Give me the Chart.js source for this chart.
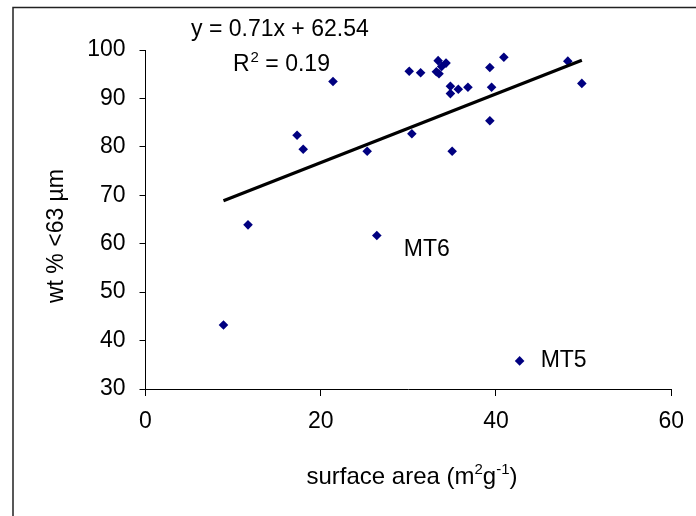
<!DOCTYPE html>
<html>
<head>
<meta charset="utf-8">
<script src="https://cdn.jsdelivr.net/npm/chart.js@4.4.1/dist/chart.umd.min.js"></script>
<style>
html,body{margin:0;padding:0;background:#fff;}
#wrap{width:696px;height:516px;position:relative;}
</style>
</head>
<body>
<div id="wrap"><canvas id="c" width="696" height="516"></canvas></div>
<script>
// Data
const surfaceArea = [21.4, 17.3, 18.0, 25.3, 30.1, 31.4, 33.4, 34.3, 33.2, 33.5, 33.8, 39.3, 40.9, 34.8, 35.7, 36.8, 34.8, 39.5, 39.3, 30.4, 35.0, 48.2, 49.8, 11.7, 26.4, 8.9, 42.7];
const wtPercent   = [93.5, 82.4, 79.5, 79.1, 95.6, 95.3, 97.8, 97.3, 95.5, 95.1, 96.6, 96.4, 98.5, 92.5, 91.9, 92.3, 91.0, 92.3, 85.4, 82.7, 79.1, 97.7, 93.1, 63.9, 61.7, 43.2, 35.8];
const xTickValues = [0, 20, 40, 60];
const yTickValues = [30, 40, 50, 60, 70, 80, 90, 100];
const trendSlope = 0.71;
const trendIntercept = 62.54;
const equationText = "y = 0.71x + 62.54";
const r2Value = "0.19";
const pointLabels = [{text: "MT6", x: 26.4, y: 61.7}, {text: "MT5", x: 42.7, y: 35.8}];

const points = surfaceArea.map((x, i) => ({x: x, y: wtPercent[i]}));
const xMin = Math.min(...surfaceArea), xMax = Math.max(...surfaceArea);
const trend = [{x: xMin, y: trendSlope * xMin + trendIntercept}, {x: xMax, y: trendSlope * xMax + trendIntercept}];

const FONT = '"Liberation Sans", Arial, sans-serif';

const decor = {
  id: 'decor',
  beforeDraw(chart) {
    const ctx = chart.ctx;
    ctx.save();
    ctx.fillStyle = '#fff';
    ctx.fillRect(0, 0, chart.width, chart.height);
    ctx.strokeStyle = '#222';
    ctx.lineWidth = 1.5;
    ctx.strokeRect(13, 7.5, 800, 800);
    ctx.restore();
  },
  afterDraw(chart) {
    const ctx = chart.ctx;
    const xs = chart.scales.x, ys = chart.scales.y;
    ctx.save();
    ctx.fillStyle = '#000';
    ctx.textBaseline = 'alphabetic';
    // Equation
    ctx.font = '23px ' + FONT;
    ctx.textAlign = 'left';
    ctx.fillText(equationText, 191, 36);
    // R^2
    let x0 = 233, yb = 71;
    ctx.fillText('R', x0, yb);
    let w = ctx.measureText('R').width;
    ctx.font = '15px ' + FONT;
    ctx.fillText('2', x0 + w + 1, yb - 9);
    let w2 = ctx.measureText('2').width;
    ctx.font = '23px ' + FONT;
    ctx.fillText(' = ' + r2Value, x0 + w + w2 + 1, yb);
    // Point labels
    ctx.font = '23px ' + FONT;
    ctx.textBaseline = 'middle';
    const off = [{dx: 27, dy: 14}, {dx: 21, dy: 0}];
    pointLabels.forEach((p, i) => {
      const px = xs.getPixelForValue(p.x), py = ys.getPixelForValue(p.y);
      ctx.fillText(p.text, px + off[i].dx, py + off[i].dy);
    });
    // X axis title with superscripts
    ctx.textBaseline = 'alphabetic';
    const parts = [['surface area (m', 24, 0], ['2', 15, -10], ['g', 24, 0], ['-1', 15, -10], [')', 24, 0]];
    let total = 0;
    parts.forEach(p => { ctx.font = p[1] + 'px ' + FONT; total += ctx.measureText(p[0]).width; });
    let cx = 412 - total / 2;
    parts.forEach(p => {
      ctx.font = p[1] + 'px ' + FONT;
      ctx.fillText(p[0], cx, 484 + p[2]);
      cx += ctx.measureText(p[0]).width;
    });
    // Y axis title
    ctx.translate(57, 236);
    ctx.rotate(-Math.PI / 2);
    ctx.font = '23px ' + FONT;
    ctx.textAlign = 'center';
    ctx.textBaseline = 'middle';
    ctx.fillText('wt % <63 \u00B5m', 0, 0);
    ctx.restore();
  }
};

new Chart(document.getElementById('c'), {
  type: 'scatter',
  data: {
    datasets: [
      {
        label: 'data',
        data: points,
        pointStyle: 'rectRot',
        pointRadius: 4.8,
        pointBackgroundColor: '#000080',
        pointBorderColor: '#000080',
        pointBorderWidth: 0,
        showLine: false,
        order: 2
      },
      {
        label: 'trend',
        type: 'line',
        data: trend,
        borderColor: '#000',
        borderWidth: 3.2,
        pointRadius: 0,
        fill: false,
        order: 1
      }
    ]
  },
  options: {
    responsive: false,
    animation: false,
    devicePixelRatio: 1,
    layout: {padding: {top: 50, right: 23, left: 0, bottom: 0}},
    plugins: {legend: {display: false}, tooltip: {enabled: false}},
    scales: {
      x: {
        type: 'linear', min: 0, max: 60,
        afterBuildTicks(s) { s.ticks = xTickValues.map(v => ({value: v})); },
        afterFit(s) { s.height = 127; },
        grid: {drawOnChartArea: false, drawTicks: true, tickLength: 7, color: '#000'},
        border: {color: '#000', width: 1},
        ticks: {color: '#000', font: {family: FONT, size: 23}, padding: 12, maxRotation: 0}
      },
      y: {
        type: 'linear', min: 30, max: 100,
        afterBuildTicks(s) { s.ticks = yTickValues.map(v => ({value: v})); },
        afterFit(s) { s.width = 145.5; },
        grid: {drawOnChartArea: false, drawTicks: true, tickLength: 6, color: '#000'},
        border: {color: '#000', width: 1},
        ticks: {color: '#000', font: {family: FONT, size: 23}, padding: 14}
      }
    }
  },
  plugins: [decor]
});
</script>
</body>
</html>
